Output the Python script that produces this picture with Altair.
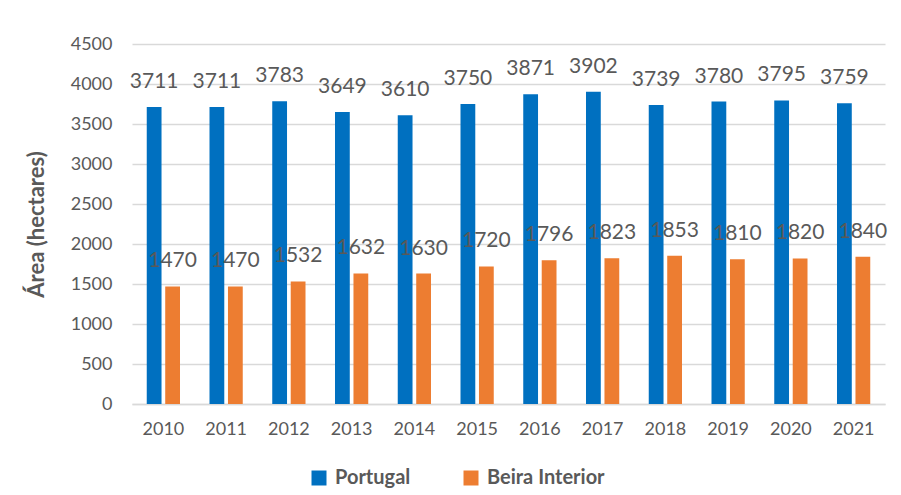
import altair as alt
import pandas as pd

years = ["2010", "2011", "2012", "2013", "2014", "2015", "2016", "2017", "2018", "2019", "2020", "2021"]
portugal = [3711, 3711, 3783, 3649, 3610, 3750, 3871, 3902, 3739, 3780, 3795, 3759]
beira = [1470, 1470, 1532, 1632, 1630, 1720, 1796, 1823, 1853, 1810, 1820, 1840]
series = ["Portugal", "Beira Interior"]
colors = ["#0070C0", "#ED7D31"]
y_ticks = [0, 500, 1000, 1500, 2000, 2500, 3000, 3500, 4000, 4500]

rows = []
for i, y in enumerate(years):
    rows.append({"Ano": y, "Série": series[0], "Valor": portugal[i]})
    rows.append({"Ano": y, "Série": series[1], "Valor": beira[i]})
df = pd.DataFrame(rows)

FONT = "Lato"
GRAY = "#595959"

x = alt.X("Ano:N", sort=years, title=None,
          scale=alt.Scale(paddingInner=0.47, paddingOuter=0.235),
          axis=alt.Axis(labelAngle=0, ticks=False, labelPadding=16, labelFontSize=18,
                        labelColor=GRAY, labelFont=FONT, domainColor="#D9D9D9", domainWidth=1.5))
xo = alt.XOffset("Série:N", sort=series, scale=alt.Scale(paddingInner=0.2, paddingOuter=0))
y = alt.Y("Valor:Q", scale=alt.Scale(domain=[0, 4500], nice=False),
          title="Área (hectares)",
          axis=alt.Axis(values=y_ticks, format="d", ticks=False, domain=False, labelPadding=20,
                        labelFontSize=18, labelColor=GRAY, labelFont=FONT,
                        gridColor="#D9D9D9", gridWidth=1.5,
                        titleFont=FONT, titleFontSize=22, titleFontWeight="bold",
                        titleColor=GRAY, titlePadding=22))
color = alt.Color("Série:N", sort=series,
                  scale=alt.Scale(domain=series, range=colors),
                  legend=alt.Legend(title=None, orient="none", direction="horizontal",
                                    legendX=177, legendY=424, symbolType="square",
                                    symbolSize=225, symbolStrokeWidth=0,
                                    labelFont=FONT, labelFontSize=20, labelFontWeight="bold",
                                    labelColor=GRAY, labelOffset=6, columnPadding=50,
                                    padding=0))

bars = alt.Chart(df).mark_bar().encode(x=x, xOffset=xo, y=y, color=color)
labels = alt.Chart(df).mark_text(dy=-19, baseline="alphabetic", fontSize=21,
                                 font=FONT, color=GRAY).encode(
    x=x, xOffset=xo, y=y, text=alt.Text("Valor:Q", format="d"))

chart = alt.layer(bars, labels).properties(
    width=753, height=360,
    autosize=alt.AutoSizeParams(type="none"),
    padding={"left": 124, "top": 36, "right": 8, "bottom": 88},
).configure_view(stroke=None)

chart.save("out.html", embed_options={"renderer": "svg", "actions": False})
